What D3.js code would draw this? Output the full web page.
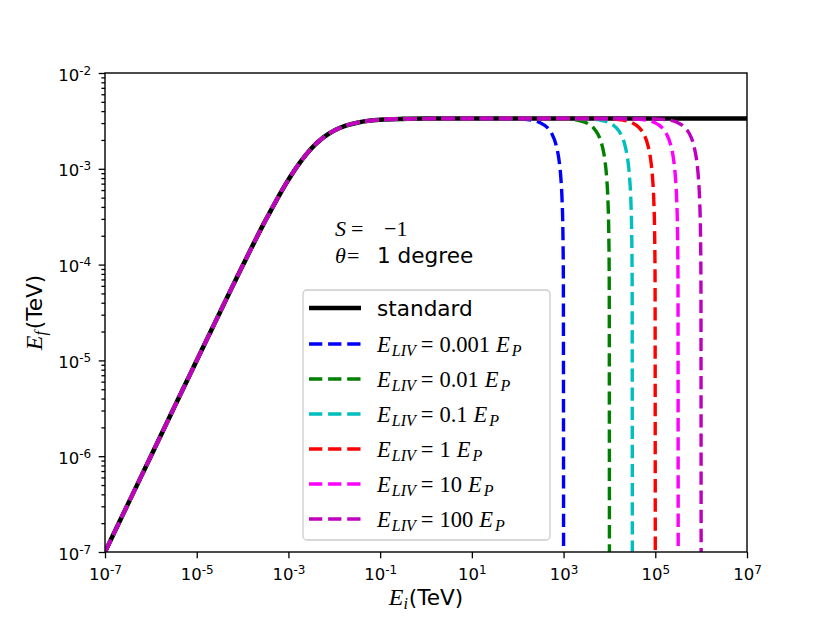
<!DOCTYPE html>
<html>
<head>
<meta charset="utf-8">
<script src="https://cdn.jsdelivr.net/npm/d3@7"></script>
<style>
body { margin: 0; background: #fff; }
text { font-family: "DejaVu Sans", sans-serif; fill: #000; }
.math { font-family: "Liberation Serif", serif; }
</style>
</head>
<body>
<svg width="830" height="622"></svg>
<script>
// standard curve, E_i (TeV) and E_f (TeV)
var eStd = [1e-7, 3.16e-7, 1e-6, 3.16e-6, 1e-5, 3.16e-5, 1e-4, 3.16e-4, 1e-3, 1.78e-3,
  3.16e-3, 5.62e-3, 1e-2, 1.78e-2, 3.16e-2, 5.62e-2, 1e-1, 3.16e-1, 1, 10, 100, 1e3, 1e4, 1e5, 1e6, 1e7];
var efStd = [1e-7, 3.16e-7, 1e-6, 3.16e-6, 9.97e-6, 3.13e-5, 9.71e-5, 2.89e-4, 7.7e-4, 1.16e-3,
  1.63e-3, 2.1e-3, 2.51e-3, 2.82e-3, 3.03e-3, 3.17e-3, 3.25e-3, 3.32e-3, 3.344e-3, 3.354e-3,
  3.354e-3, 3.354e-3, 3.354e-3, 3.354e-3, 3.354e-3, 3.354e-3];

// drop-off near the cut-off, same E_f values for every LIV curve
var tailEf = [3.32e-3, 3.22e-3, 3.05e-3, 2.67e-3, 2.34e-3, 1.71e-3, 1.21e-3, 8.15e-4, 4.53e-4, 2.31e-4, 6.7e-5, 1e-7];
var tailE0001 = [100, 200, 300, 450, 550, 700, 800, 870, 930, 965, 990, 1000];
var tailE001 = [1e3, 2e3, 3e3, 4.5e3, 5.5e3, 7e3, 8e3, 8.7e3, 9.3e3, 9.65e3, 9.9e3, 1e4];
var tailE01 = [3.16e3, 6.32e3, 9.49e3, 1.42e4, 1.74e4, 2.21e4, 2.53e4, 2.75e4, 2.94e4, 3.05e4, 3.13e4, 3.16e4];
var tailE1 = [1e4, 2e4, 3e4, 4.5e4, 5.5e4, 7e4, 8e4, 8.7e4, 9.3e4, 9.65e4, 9.9e4, 1e5];
var tailE10 = [3.16e4, 6.32e4, 9.49e4, 1.42e5, 1.74e5, 2.21e5, 2.53e5, 2.75e5, 2.94e5, 3.05e5, 3.13e5, 3.16e5];
var tailE100 = [1e5, 2e5, 3e5, 4.5e5, 5.5e5, 7e5, 8e5, 8.7e5, 9.3e5, 9.65e5, 9.9e5, 1e6];

var livLabels = ["0.001", "0.01", "0.1", "1", "10", "100"];
var livColors = ["#0000ff", "#008000", "#00bfbf", "#ff0000", "#ff00ff", "#bf00bf"];
var xTickExp = [-7, -5, -3, -1, 1, 3, 5, 7];
var yTickExp = [-7, -6, -5, -4, -3, -2];

var margin = {top: 73, right: 83, bottom: 70, left: 105},
  width = 830 - margin.left - margin.right,
  height = 622 - margin.top - margin.bottom;

var svg = d3.select('svg')
  .append("g")
  .attr("transform", "translate(" + margin.left + "," + margin.top + ")");

var x = d3.scaleLog().domain([1e-7, 1e7]).range([0, width]);
var y = d3.scaleLog().domain([1e-7, 1e-2]).range([height, 0]);

svg.append("clipPath").attr("id", "clip")
  .append("rect").attr("width", width).attr("height", height);

var livTails = [tailE0001, tailE001, tailE01, tailE1, tailE10, tailE100];
var series = livTails.map(function(tail, k) {
  var pts = [];
  eStd.forEach(function(e, i) { if (e < tail[0]) pts.push([e, efStd[i]]); });
  tail.forEach(function(e, i) { pts.push([e, tailEf[i]]); });
  return {label: livLabels[k], color: livColors[k], pts: pts};
});

var line = d3.line()
  .x(function(d) { return x(d[0]); })
  .y(function(d) { return y(d[1]); })
  .curve(d3.curveMonotoneX);

var plot = svg.append("g").attr("clip-path", "url(#clip)");

plot.append("path")
  .datum(eStd.map(function(e, i) { return [e, efStd[i]]; }))
  .attr("d", line)
  .attr("fill", "none")
  .attr("stroke", "#000")
  .attr("stroke-width", 4.6);

plot.selectAll(".liv")
  .data(series)
  .enter().append("path")
  .attr("class", "liv")
  .attr("d", function(d) { return line(d.pts); })
  .attr("fill", "none")
  .attr("stroke", function(d) { return d.color; })
  .attr("stroke-width", 3.4)
  .attr("stroke-dasharray", "13.3,5.8");

// axes
var xAxis = svg.append("g")
  .attr("transform", "translate(0," + height + ")")
  .call(d3.axisBottom(x)
    .tickValues(xTickExp.map(function(e) { return Math.pow(10, e); }))
    .tickSize(6.3).tickSizeOuter(0).tickFormat(""));

var yAxis = svg.append("g")
  .call(d3.axisLeft(y)
    .tickValues(yTickExp.map(function(e) { return Math.pow(10, e); }))
    .tickSize(6.3).tickSizeOuter(0).tickPadding(7.5).tickFormat(""));

var minor = [];
yTickExp.slice(0, -1).forEach(function(e) {
  for (var m = 2; m < 10; m++) minor.push(m * Math.pow(10, e));
});
svg.append("g")
  .call(d3.axisLeft(y).tickValues(minor).tickSize(3.6).tickSizeOuter(0).tickFormat(""));

svg.selectAll(".domain").remove();
svg.selectAll(".tick line").attr("stroke", "#000").attr("stroke-width", 1.3);

function powLabel(sel, exps) {
  sel.selectAll(".tick text").each(function(d, i) {
    var t = d3.select(this).text(null).attr("fill", "#000").style("font-size", "16.5px");
    t.append("tspan").text("10");
    t.append("tspan").attr("dy", -6).style("font-size", "12px").text(exps[i]);
  });
}
powLabel(xAxis, xTickExp);
powLabel(yAxis, yTickExp);
xAxis.selectAll(".tick text").attr("dy", null).attr("y", 28);
yAxis.selectAll(".tick text").attr("dy", null).attr("y", 7);

svg.append("rect")
  .attr("width", width).attr("height", height)
  .attr("fill", "none").attr("stroke", "#000").attr("stroke-width", 1.4);

// axis labels
var xl = svg.append("text")
  .attr("x", width / 2).attr("y", height + 53)
  .attr("text-anchor", "middle").style("font-size", "21.6px");
xl.append("tspan").attr("class", "math").style("font-style", "italic").style("font-size", "24px").text("E");
xl.append("tspan").attr("class", "math").style("font-style", "italic").style("font-size", "16px").attr("dy", 4).text("i");
xl.append("tspan").attr("dy", -4).attr("dx", 1).text("(TeV)");

var yl = svg.append("text")
  .attr("transform", "translate(" + (-63) + "," + (height / 2) + ") rotate(-90)")
  .attr("text-anchor", "middle").style("font-size", "21.6px");
yl.append("tspan").attr("class", "math").style("font-style", "italic").style("font-size", "24px").text("E");
yl.append("tspan").attr("class", "math").style("font-style", "italic").style("font-size", "16px").attr("dy", 4).text("f");
yl.append("tspan").attr("dy", -4).attr("dx", 2).text("(TeV)");

// annotation
var s1 = svg.append("text").attr("x", 335 - margin.left).attr("y", 236 - margin.top)
  .attr("class", "math").style("font-size", "22px");
s1.append("tspan").style("font-style", "italic").text("S");
s1.append("tspan").attr("x", 351 - margin.left).text("=");
s1.append("tspan").attr("x", 384 - margin.left).text("\u22121");

var s2 = svg.append("text").attr("x", 335 - margin.left).attr("y", 263 - margin.top)
  .attr("class", "math").style("font-size", "22px");
s2.append("tspan").style("font-style", "italic").text("\u03b8");
s2.append("tspan").attr("x", 347 - margin.left).text("=");
s2.append("tspan").attr("x", 377 - margin.left).style("font-family", "DejaVu Sans").style("font-size", "21.6px").text("1 degree");

// legend
var lg = svg.append("g").attr("transform", "translate(" + (303 - margin.left) + "," + (290 - margin.top) + ")");
lg.append("rect")
  .attr("width", 247).attr("height", 250).attr("rx", 4)
  .attr("fill", "#fff").attr("fill-opacity", 0.8)
  .attr("stroke", "#cccccc").attr("stroke-width", 1.3);

lg.append("line")
  .attr("x1", 6).attr("x2", 58).attr("y1", 18).attr("y2", 18)
  .attr("stroke", "#000").attr("stroke-width", 4.6);
lg.append("text").attr("x", 74).attr("y", 26).style("font-size", "21.6px").text("standard");

var rows = lg.selectAll(".row")
  .data(series)
  .enter().append("g")
  .attr("class", "row")
  .attr("transform", function(d, i) { return "translate(0," + (54 + i * 35) + ")"; });

rows.append("line")
  .attr("x1", 6).attr("x2", 58).attr("y1", 0).attr("y2", 0)
  .attr("stroke", function(d) { return d.color; })
  .attr("stroke-width", 3.4)
  .attr("stroke-dasharray", "13.3,5.8");

var rt = rows.append("text").attr("x", 74).attr("y", 8).attr("class", "math").style("font-size", "22.5px");
rt.append("tspan").style("font-style", "italic").text("E");
rt.append("tspan").style("font-style", "italic").style("font-size", "16px").attr("dy", 4).attr("dx", 1).text("LIV");
rt.append("tspan").attr("dy", -4).attr("dx", 5).text("=");
rt.append("tspan").attr("dx", 6).text(function(d) { return d.label; });
rt.append("tspan").attr("dx", 6).style("font-style", "italic").text("E");
rt.append("tspan").style("font-style", "italic").style("font-size", "16px").attr("dy", 4).attr("dx", 2).text("P");
</script>
</body>
</html>
